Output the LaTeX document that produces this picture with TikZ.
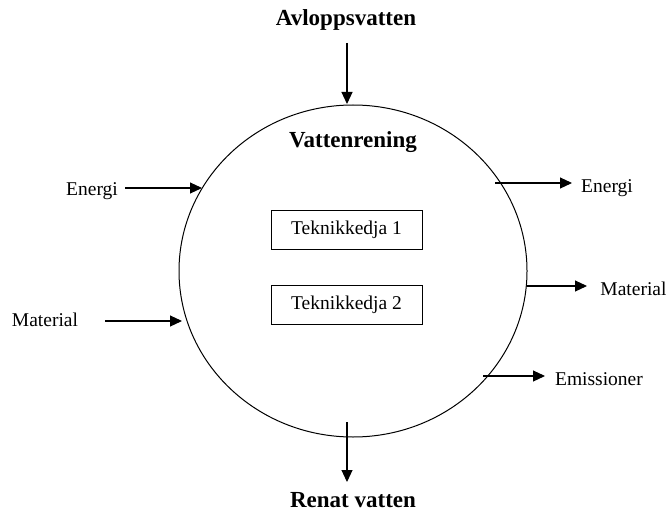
\documentclass[tikz,border=0pt]{standalone}
\usepackage{fontspec}
\setmainfont{Liberation Serif}
\usetikzlibrary{arrows.meta,shapes.geometric}
\begin{document}
\begin{tikzpicture}[x=1pt,y=-1pt,
  flow/.style={line width=1.1pt,-{Triangle[length=12pt,width=11pt]}},
  big/.style={font=\fontsize{23}{27}\selectfont\bfseries,inner sep=0pt,anchor=base},
  lbl/.style={font=\fontsize{19.5}{23}\selectfont,inner sep=0pt,anchor=base},
  chain/.style={draw,line width=0.9pt,minimum width=151pt,minimum height=39pt,font=\fontsize{19.5}{23}\selectfont,inner sep=0pt}]
\useasboundingbox (0,0) rectangle (668,513);
\node[ellipse,draw,line width=1pt,minimum width=348pt,minimum height=332pt,inner sep=0pt] (plant) at (353,271) {};
% titles
\node[big] (inflow) at (346,26) {Avloppsvatten};
\node[big] (title) at (353,147) {Vattenrening};
\node[big] (outflow) at (353,507) {Renat vatten};
% technique chains
\node[chain] (t1) at (346.5,229.5) {Teknikkedja 1};
\node[chain] (t2) at (346.5,304.5) {Teknikkedja 2};
% side labels
\node[lbl] (ein) at (92,195) {Energi};
\node[lbl] (min) at (45,326) {Material};
\node[lbl] (eout) at (607,192) {Energi};
\node[lbl] (mout) at (633.5,295) {Material};
\node[lbl] (emis) at (599,385) {Emissioner};
% arrow end points
\coordinate (a1) at (347,43);   \coordinate (a2) at (347,104);
\coordinate (b1) at (347,422);  \coordinate (b2) at (347,482);
\coordinate (c1) at (125,188);  \coordinate (c2) at (202,188);
\coordinate (d1) at (105,321);  \coordinate (d2) at (182,321);
\coordinate (e1) at (495,183);  \coordinate (e2) at (572,183);
\coordinate (f1) at (527,286);  \coordinate (f2) at (587,286);
\coordinate (g1) at (483,376);  \coordinate (g2) at (545,376);
\draw[flow] (a1) -- (a2);
\draw[flow] (b1) -- (b2);
\draw[flow] (c1) -- (c2);
\draw[flow] (d1) -- (d2);
\draw[flow] (e1) -- (e2);
\draw[flow] (f1) -- (f2);
\draw[flow] (g1) -- (g2);
\end{tikzpicture}
\end{document}
